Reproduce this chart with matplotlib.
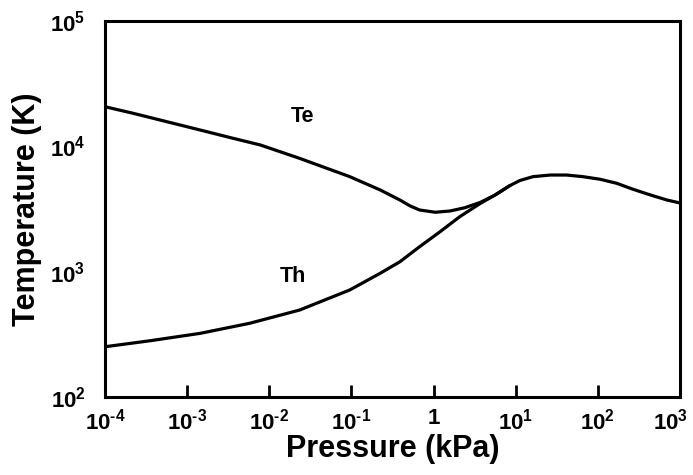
import numpy as np
import matplotlib
matplotlib.use('Agg')
import matplotlib.pyplot as plt
import matplotlib.transforms as mtransforms
from matplotlib.ticker import FixedLocator, FixedFormatter, NullLocator

plt.rcParams['font.family'] = ['Liberation Sans', 'DejaVu Sans']
plt.rcParams['mathtext.fontset'] = 'custom'
plt.rcParams['mathtext.rm'] = 'Liberation Sans:bold'
plt.rcParams['mathtext.bf'] = 'Liberation Sans:bold'
plt.rcParams['mathtext.it'] = 'Liberation Sans:bold'

# curves (log10 of pressure in kPa, log10 of T in K)
te_logp = [-4.0, -3.66, -3.25, -2.84, -2.44, -2.11, -1.63, -1.02, -0.65, -0.53,
           -0.41, -0.29, -0.17, 0.02, 0.20, 0.38, 0.57, 0.75, 0.93, 1.05, 1.21,
           1.42, 1.62, 1.82, 2.03, 2.23, 2.43, 2.64, 2.84, 3.0]
te_logT = [4.316, 4.264, 4.197, 4.130, 4.064, 4.011, 3.904, 3.758, 3.652, 3.612,
           3.572, 3.526, 3.492, 3.474, 3.484, 3.510, 3.553, 3.612, 3.687, 3.727, 3.758,
           3.771, 3.771, 3.758, 3.737, 3.705, 3.657, 3.612, 3.572, 3.548]
th_logp = [-4.0, -3.45, -2.84, -2.24, -1.63, -1.02, -0.65, -0.41, -0.17, 0.08,
           0.32, 0.57, 0.75, 0.93]
th_logT = [2.401, 2.449, 2.508, 2.588, 2.694, 2.854, 2.987, 3.079, 3.199, 3.319,
           3.439, 3.545, 3.612, 3.687]

xticks = [1e-4, 1e-3, 1e-2, 1e-1, 1, 1e1, 1e2, 1e3]
xlabels = [r'$10^{\text{-}4}$', r'$10^{\text{-}3}$', r'$10^{\text{-}2}$',
           r'$10^{\text{-}1}$', '1', r'$10^{1}$', r'$10^{2}$', r'$10^{3}$']
yticks = [1e2, 1e3, 1e4, 1e5]
ylabels = [r'$10^{2}$', r'$10^{3}$', r'$10^{4}$', r'$10^{5}$']

fig = plt.figure(figsize=(6.93, 4.75), dpi=100)
ax = fig.add_axes([0.1515, 0.1642, 0.8297, 0.7916])

ax.plot(10 ** np.array(te_logp), 10 ** np.array(te_logT), color='black', lw=2.3,
        solid_capstyle='round', solid_joinstyle='round')
ax.plot(10 ** np.array(th_logp), 10 ** np.array(th_logT), color='black', lw=2.3,
        solid_capstyle='round', solid_joinstyle='round')

ax.set_xscale('log')
ax.set_yscale('log')
ax.set_xlim(1e-4, 1e3)
ax.set_ylim(1e2, 1e5)

ax.xaxis.set_major_locator(FixedLocator(xticks))
ax.xaxis.set_major_formatter(FixedFormatter(xlabels))
ax.xaxis.set_minor_locator(NullLocator())
ax.yaxis.set_major_locator(FixedLocator(yticks))
ax.yaxis.set_major_formatter(FixedFormatter(ylabels))
ax.yaxis.set_minor_locator(NullLocator())

ax.tick_params(axis='x', direction='in', length=9, width=2, pad=8, labelsize=16)
ax.tick_params(axis='y', direction='in', length=0, pad=14, labelsize=16)
for lab in ax.get_xticklabels() + ax.get_yticklabels():
    lab.set_fontweight('bold')

# the last x label sits a little left so it stays inside the figure
last = ax.xaxis.get_major_ticks()[-1].label1
last.set_transform(last.get_transform() + mtransforms.ScaledTranslation(-7 / 72, 0, fig.dpi_scale_trans))

for s in ax.spines.values():
    s.set_linewidth(2.2)

ax.text(10 ** -1.6, 10 ** 4.242, 'Te', fontsize=15.5, fontweight='bold', ha='center', va='center')
ax.text(10 ** -1.71, 10 ** 2.965, 'Th', fontsize=15.5, fontweight='bold', ha='center', va='center')

ax.set_xlabel('Pressure (kPa)', fontsize=22, fontweight='bold', labelpad=0)
ax.set_ylabel('Temperature (K)', fontsize=22, fontweight='bold', labelpad=6)

fig.savefig('out.png', dpi=100)
